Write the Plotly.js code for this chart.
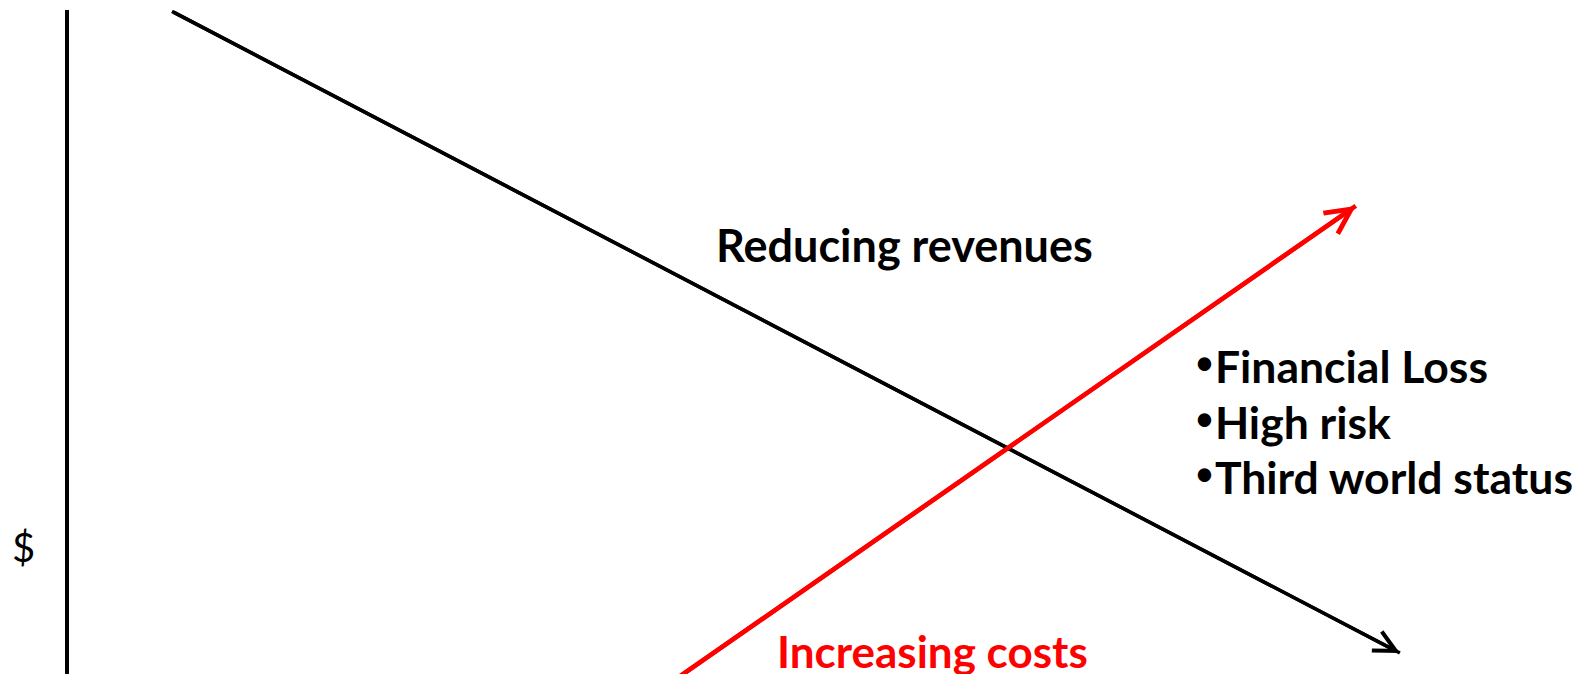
<!DOCTYPE html>
<html>
<head>
<meta charset="utf-8">
<script src="https://cdn.plot.ly/plotly-3.0.1.min.js"></script>
<style>
  html, body { margin: 0; padding: 0; background: #ffffff; }
  #chart { width: 1590px; height: 674px; }
</style>
</head>
<body>
<div id="chart"></div>
<script>
// ---- data (schematic units: x = quantity 0..100, y = $ 0..100)
const revenueX = [6.77, 87.5];
const revenueY = [99.8, 3.16];
const costX = [38.5, 84.6];
const costY = [-3, 70.5];
const seriesNames = ['Reducing revenues', 'Increasing costs'];
const outcomes = ['Financial Loss', 'High risk', 'Third world status'];
const yLabel = '$';

const FONT = 'Lato, "Open Sans", sans-serif';
const BLACK = '#000000';
const RED = '#ff0000';

const traces = [
  {
    x: revenueX, y: revenueY, name: seriesNames[0],
    type: 'scatter', mode: 'lines',
    line: { color: BLACK, width: 3.5 },
    hoverinfo: 'skip'
  },
  {
    x: costX, y: costY, name: seriesNames[1],
    type: 'scatter', mode: 'lines',
    line: { color: RED, width: 4.5 },
    hoverinfo: 'skip'
  }
];

function arrowHead(xs, ys, color, width, size) {
  const n = xs.length;
  return {
    x: xs[n - 1], y: ys[n - 1], xref: 'x', yref: 'y',
    ax: xs[n - 2], ay: ys[n - 2], axref: 'x', ayref: 'y',
    text: '', showarrow: true, arrowhead: 5, arrowsize: size,
    arrowwidth: width, arrowcolor: color, standoff: 0
  };
}

const outcomeY = [46.5, 38.1, 29.7];
const outcomeNotes = outcomes.map((t, i) => ({
  x: 73.8, y: outcomeY[i], xref: 'x', yref: 'y', showarrow: false,
  xanchor: 'left', yanchor: 'middle', align: 'left',
  text: '<span style="font-size:36px;baseline-shift:8px">\u2022</span><b>' + t + '</b>',
  font: { family: FONT, size: 44.5, color: BLACK }
}));

const layout = {
  width: 1590, height: 674,
  margin: { l: 69, r: 0, t: 10, b: 0, pad: 0 },
  paper_bgcolor: '#ffffff', plot_bgcolor: '#ffffff',
  showlegend: false,
  font: { family: FONT, color: BLACK },
  xaxis: {
    range: [0, 100], visible: false, showgrid: false, zeroline: false, fixedrange: true
  },
  yaxis: {
    range: [0, 100], showline: true, linecolor: BLACK, linewidth: 4.5,
    showgrid: false, zeroline: false, ticks: '', showticklabels: false, fixedrange: true
  },
  annotations: [
    arrowHead(revenueX, revenueY, BLACK, 3.5, 1.2),
    arrowHead(costX, costY, RED, 4.5, 1.1),
    {
      x: 54.9, y: 64.6, xref: 'x', yref: 'y', showarrow: false,
      xanchor: 'center', yanchor: 'middle',
      text: '<b>' + seriesNames[0] + '</b>',
      font: { family: FONT, size: 45, color: BLACK }
    },
    {
      x: 56.8, y: 3.5, xref: 'x', yref: 'y', showarrow: false,
      xanchor: 'center', yanchor: 'middle',
      text: '<b>' + seriesNames[1] + '</b>',
      font: { family: FONT, size: 44, color: RED }
    },
    {
      x: (23 - 69) / (1590 - 69), y: (674 - 547) / (674 - 10),
      xref: 'paper', yref: 'paper', showarrow: false,
      xanchor: 'center', yanchor: 'middle',
      text: yLabel,
      font: { family: FONT, size: 40, color: BLACK }
    }
  ].concat(outcomeNotes)
};

Plotly.newPlot('chart', traces, layout, { displayModeBar: false, staticPlot: true });
</script>
</body>
</html>
